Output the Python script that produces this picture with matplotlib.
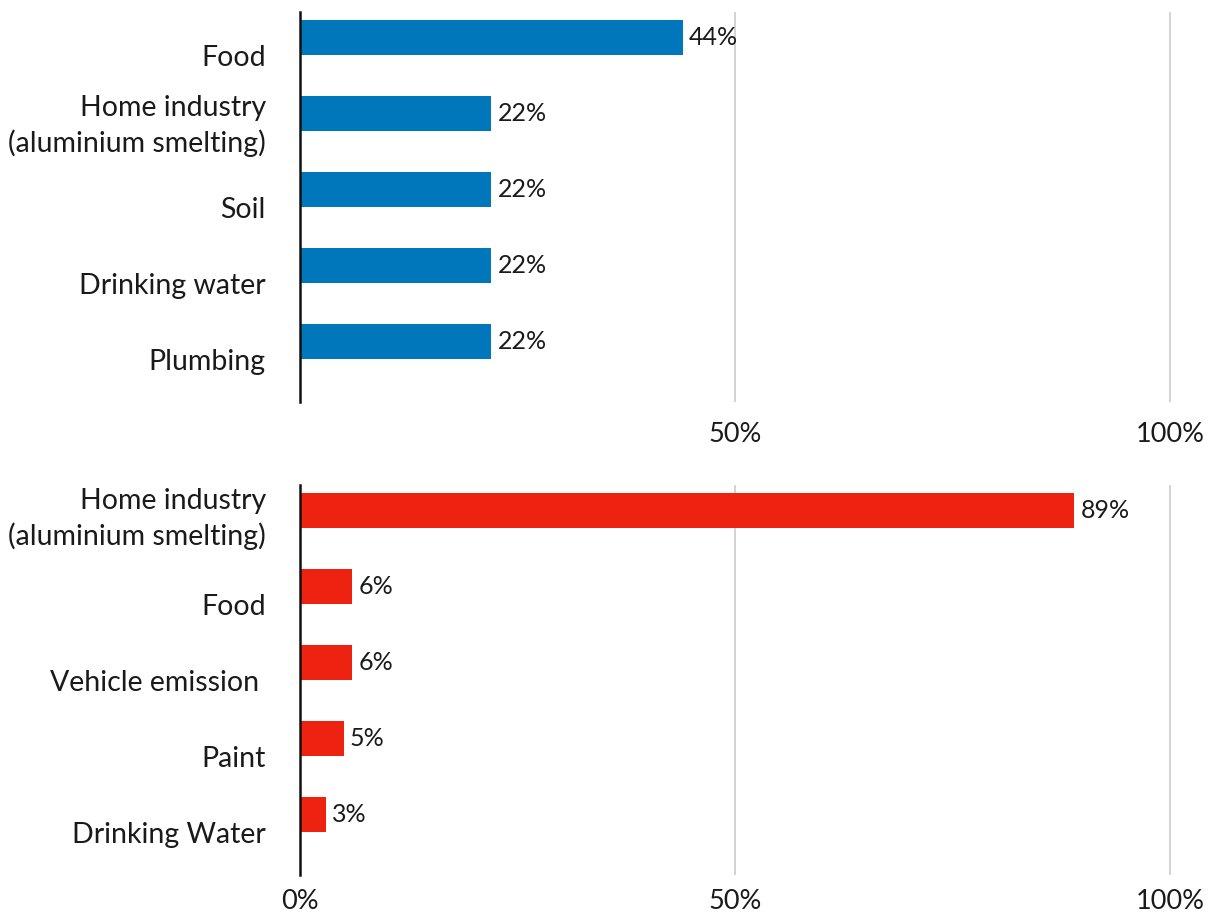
import matplotlib
matplotlib.use('Agg')
import matplotlib.pyplot as plt

plt.rcParams['font.family'] = ['Lato', 'DejaVu Sans']

# children (top) and adults (bottom): share of exposure sources
top_cats = ['Food', 'Home industry\n(aluminium smelting)', 'Soil', 'Drinking water', 'Plumbing']
top_vals = [44, 22, 22, 22, 22]
bot_cats = ['Home industry\n(aluminium smelting)', 'Food', 'Vehicle emission ', 'Paint', 'Drinking Water']
bot_vals = [89, 6, 6, 5, 3]

blue = '#0077BB'
red = '#EE2211'
ink = '#1a1a1a'

fig = plt.figure(figsize=(12.16, 9.13), dpi=100)
W, H = 1216.0, 913.0
px_per_unit = 8.7
x0 = 300.0
right = x0 + 101 * px_per_unit
ax_top = fig.add_axes([x0 / W, 1 - 402 / H, (right - x0) / W, 390 / H])
ax_bot = fig.add_axes([x0 / W, 1 - 875 / H, (right - x0) / W, 390 / H])


def draw(ax, cats, vals, color, ticks, xpad, two_line_off):
    ys = list(range(len(cats)))
    ax.barh(ys, vals, height=0.46, color=color, zorder=3)
    for y, v in zip(ys, vals):
        ax.text(v + 0.7, y, f'{v}%', va='center', ha='left', fontsize=18, color=ink)
    ax.set_xlim(0, 101)
    ax.set_ylim(4.8, -0.33)
    # category names sit slightly below their bars
    ax.set_yticks([y + (two_line_off if '\n' in c else 0.24) for y, c in zip(ys, cats)])
    ax.set_yticklabels(cats, fontsize=20.5, color=ink, linespacing=1.37)
    ax.set_xticks(ticks)
    ax.set_xticklabels([f'{t}%' for t in ticks], fontsize=19.5, color=ink)
    ax.tick_params(axis='both', length=0)
    ax.tick_params(axis='x', pad=xpad)
    ax.tick_params(axis='y', pad=24.5)
    for t in (50, 100):
        ax.axvline(t, color='#cccccc', linewidth=1.2, zorder=1)
    for s in ('top', 'right', 'bottom'):
        ax.spines[s].set_visible(False)
    ax.spines['left'].set_linewidth(1.8)
    ax.spines['left'].set_color('#111111')
    ax.spines['left'].set_zorder(4)


draw(ax_top, top_cats, top_vals, blue, [50, 100], 14.5, 0.08)
draw(ax_bot, bot_cats, bot_vals, red, [0, 50, 100], 10, 0.03)

fig.savefig('out.png', dpi=100)
